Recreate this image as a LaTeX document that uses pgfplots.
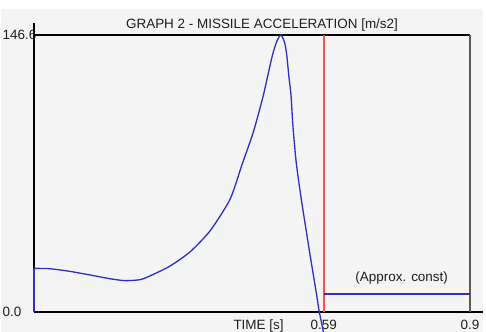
\documentclass[border=0pt]{standalone}
\usepackage{pgfplots}
\pgfplotsset{compat=1.18}
\usepackage{fontspec}
\setmainfont{Liberation Sans}
\definecolor{bgc}{RGB}{244,244,244}
\definecolor{curveblue}{RGB}{45,45,200}
\definecolor{myred}{RGB}{255,80,80}
\definecolor{rgray}{RGB}{90,90,90}
\definecolor{txt}{RGB}{30,30,30}
\begin{document}
\begin{tikzpicture}
\useasboundingbox (-34bp,-20bp) rectangle (452bp,312bp);
\fill[bgc] (-33bp,-20bp) rectangle (449bp,303bp);
\begin{axis}[
  scale only axis,
  width=436bp, height=277bp,
  xmin=0, xmax=0.9, ymin=0, ymax=146.6,
  clip=false,
  axis line style={draw=none},
  major tick length=0pt,
  tick style={draw=none},
  xtick={0.598,0.9}, xticklabels={0.59,0.9},
  ytick={0,146.6}, yticklabels={0.0,146.6},
  tick label style={font=\fontsize{13.5}{15}\selectfont, text=txt, inner sep=0pt},
  yticklabel style={anchor=west, xshift=-31.5bp},
  xticklabel style={anchor=north, yshift=-8bp},
]
\draw[black, line width=1.1bp] (rel axis cs:0,0) -- ([yshift=12bp]rel axis cs:0,1);
\draw[black, line width=1.1bp] (rel axis cs:0,0) -- ([xshift=13bp]rel axis cs:1,0);
\draw[black, line width=1.1bp] (rel axis cs:0,1) -- (rel axis cs:1,1);
\draw[rgray, line width=1.1bp] (rel axis cs:1,0) -- (rel axis cs:1,1);
\addplot[myred, line width=2bp, no marks] coordinates {(0.598,0) (0.598,146.6)};
\addplot[curveblue, line width=1.6bp, no marks] coordinates {(0,0) (0,23.1)};
\addplot[curveblue, line width=1.3bp, no marks, smooth, tension=0.4] coordinates {
(0,23.1) (0.0330,22.9) (0.0743,21.5) (0.1156,19.6) (0.1569,17.6)
(0.1878,16.6) (0.2188,17.1) (0.2394,19.1) (0.2807,24.3) (0.3220,31.8)
(0.3633,42.9) (0.4046,59.6) (0.4294,78) (0.4521,94.7) (0.4727,113.9)
(0.4913,135) (0.5016,143.5) (0.5099,146.6) (0.5175,142.4) (0.5217,136)
(0.5264,124) (0.5305,114.8) (0.5346,98) (0.5414,78.9) (0.5517,59.8)
(0.5691,31.4) (0.5827,10.2) (0.5890,0) (0.5975,-10.6)
};
\addplot[curveblue, line width=2bp, no marks] coordinates {(0.598,9.7) (0.9,9.7)};
\node[anchor=base, inner sep=0pt, text=txt, font=\fontsize{13.5}{15}\selectfont] at ([yshift=6bp]rel axis cs:0.523,1) {GRAPH 2 - MISSILE ACCELERATION [m/s2]};
\node[anchor=north, inner sep=0pt, text=txt, font=\fontsize{13.5}{15}\selectfont] at ([yshift=-8bp]rel axis cs:0.515,0) {TIME [s]};
\node[anchor=base, inner sep=0pt, text=txt, font=\fontsize{13.5}{15}\selectfont] at (rel axis cs:0.8433,0.1083) {(Approx. const)};
\end{axis}
\end{tikzpicture}
\end{document}
